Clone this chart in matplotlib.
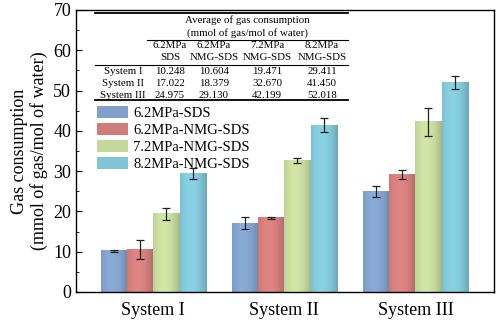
import matplotlib
matplotlib.use('Agg')
import matplotlib.pyplot as plt
import numpy as np
from matplotlib.colors import to_rgb
from matplotlib.ticker import MultipleLocator

plt.rcParams['font.family'] = 'Liberation Serif'

systems = ['System I', 'System II', 'System III']
series = ['6.2MPa-SDS', '6.2MPa-NMG-SDS', '7.2MPa-NMG-SDS', '8.2MPa-NMG-SDS']
sds62 = [10.248, 17.022, 24.975]
nmg62 = [10.604, 18.379, 29.130]
nmg72 = [19.471, 32.670, 42.199]
nmg82 = [29.411, 41.450, 52.018]
err_sds62 = [0.2, 1.5, 1.4]
err_nmg62 = [2.3, 0.35, 1.1]
err_nmg72 = [1.5, 0.7, 3.5]
err_nmg82 = [1.3, 1.8, 1.7]
colors = ['#819fc9', '#d07c7a', '#c4d79c', '#80c4d6']

table_cols = [('6.2MPa', 'SDS'), ('6.2MPa', 'NMG-SDS'), ('7.2MPa', 'NMG-SDS'), ('8.2MPa', 'NMG-SDS')]

fig = plt.figure(figsize=(4.98, 3.22), dpi=100)
ax = fig.add_axes([76/498, 30/322, 418/498, 282/322])

x = np.arange(len(systems))
w = 0.2
vals = [sds62, nmg62, nmg72, nmg82]
errs = [err_sds62, err_nmg62, err_nmg72, err_nmg82]

# shading across a bar: darker edges, light band left of centre
t = np.linspace(0, 1, 40)
shade = 1.07 - 0.22 * ((t - 0.4) / 0.6) ** 2
for i, (v, e) in enumerate(zip(vals, errs)):
    bars = ax.bar(x + (i - 1.5) * w, v, w, color=colors[i], edgecolor='none', label=series[i],
                  yerr=e, capsize=3, zorder=2,
                  error_kw=dict(elinewidth=0.9, capthick=0.9, ecolor='#222222', zorder=4))
    base = np.array(to_rgb(colors[i]))
    img = np.clip(shade[None, :, None] * base[None, None, :], 0, 1)
    for b in bars:
        bx, bw, bh = b.get_x(), b.get_width(), b.get_height()
        ax.imshow(img, extent=[bx, bx + bw, 0, bh], aspect='auto', zorder=3,
                  interpolation='bilinear')

ax.set_xlim(-0.59, 2.6)
ax.set_ylim(0, 70)
ax.set_xticks(x)
ax.set_xticklabels(systems, fontsize=13)
ax.tick_params(axis='x', length=0, pad=7)
ax.yaxis.set_major_locator(MultipleLocator(10))
ax.yaxis.set_minor_locator(MultipleLocator(5))
ax.tick_params(axis='y', which='major', direction='in', length=4, labelsize=13)
ax.tick_params(axis='y', which='minor', direction='in', length=2)
ax.set_ylabel('Gas consumption\n(mmol of gas/mol of water)', fontsize=13, linespacing=1.1)
for s in ax.spines.values():
    s.set_linewidth(1.0)
    s.set_zorder(5)

# summary table drawn inside the axes
def fx(px):
    return (px - 76) / 418

def fy(py):
    return (292 - py) / 282

tk = dict(transform=ax.transAxes, fontsize=7.8, ha='center', va='center')
ax.plot([fx(95), fx(348)], [fy(13), fy(13)], transform=ax.transAxes, color='k', lw=1.3)
ax.plot([fx(147), fx(348)], [fy(40), fy(40)], transform=ax.transAxes, color='k', lw=0.8)
ax.plot([fx(95), fx(348)], [fy(65), fy(65)], transform=ax.transAxes, color='k', lw=0.8)
ax.plot([fx(95), fx(348)], [fy(100), fy(100)], transform=ax.transAxes, color='k', lw=1.3)
ax.text(fx(247), fy(20), 'Average of gas consumption', **tk)
ax.text(fx(247), fy(33), '(mmol of gas/mol of water)', **tk)
col_x = [170, 214, 267, 322]
for cx, (a, b) in zip(col_x, table_cols):
    ax.text(fx(cx), fy(46), a, **tk)
    ax.text(fx(cx), fy(58), b, **tk)
row_y = [71, 83, 96]
for j, name in enumerate(systems):
    ax.text(fx(123), fy(row_y[j]), name, **tk)
    for cx, v in zip(col_x, vals):
        ax.text(fx(cx), fy(row_y[j]), '%.3f' % v[j], **tk)

ax.legend(loc='upper left', bbox_to_anchor=(fx(97), fy(106)), frameon=False,
          fontsize=10.5, handlelength=2.1, handleheight=0.9, labelspacing=0.2,
          handletextpad=0.4, borderaxespad=0, borderpad=0)

fig.savefig('out.png', dpi=100)
